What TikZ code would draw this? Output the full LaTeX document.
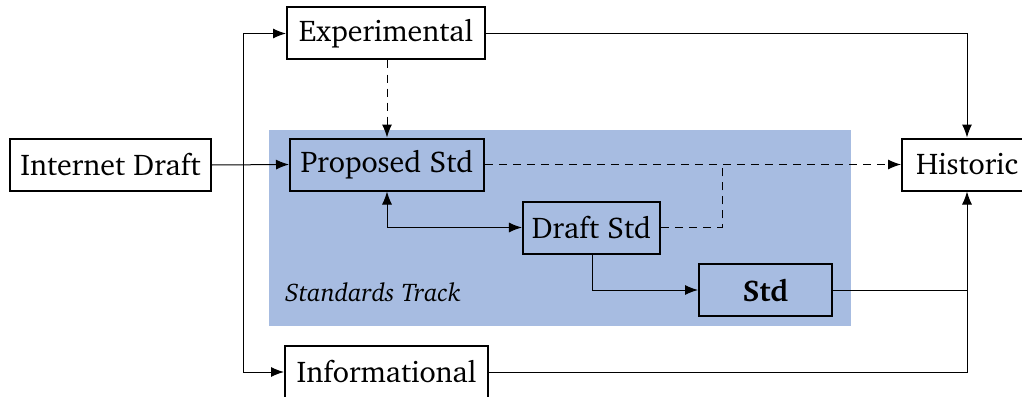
\documentclass[tikz,border=0pt]{standalone}
\usepackage[T1]{fontenc}
\usepackage{charter}
\usetikzlibrary{arrows.meta}
\definecolor{trackblue}{RGB}{167,188,225}
\begin{document}
\begin{tikzpicture}[x=1pt,y=-1pt,
  box/.style={draw, line width=2pt, minimum height=52pt, inner xsep=9pt, font=\fontsize{30}{34}\selectfont, anchor=center},
  conn/.style={line width=1pt, -{Latex[length=13pt,width=10pt]}},
  dconn/.style={conn, dash pattern=on 8pt off 6pt},
  every node/.style={inner ysep=0pt}
]
\useasboundingbox (0,0) rectangle (1022,396);
\fill[trackblue] (269,130) rectangle (851,326);
\node[box, minimum width=201pt] (id) at (110.5,165) {Internet Draft};
\node[box, minimum width=198pt] (exp) at (386,33.5) {Experimental};
\node[box, minimum width=194pt] (ps) at (387,164.5) {Proposed Std};
\node[box, minimum width=137pt] (ds) at (591.5,227.5) {Draft Std};
\node[box, minimum width=133pt] (std) at (765.5,290) {\bfseries Std};
\node[box, minimum width=130pt, anchor=west] (hist) at (901,164.5) {Historic};
\node[box, minimum width=203pt] (inf) at (386.5,372) {Informational};
\node[font=\fontsize{25.5}{30}\selectfont\itshape, anchor=west, inner xsep=0pt] (lbl) at (285,292) {Standards Track};
\coordinate (v) at (243,165);
\draw[conn] (id.east) -- (ps.west);
\draw[conn] (v |- exp.west) -- (exp.west);
\draw[conn] (v |- inf.west) -- (inf.west);
\draw[line width=1pt] (v |- exp.west) -- (v |- inf.west);
\draw[dconn] (exp.south -| ps.north) -- (ps.north);
\coordinate (hx) at (967,0);
\draw[conn] (exp.east) -| (hx |- hist.north);
\draw[dconn] (ps.east) -- (hist.west);
\coordinate (dj) at (722,0);
\draw[line width=1pt, dash pattern=on 8pt off 6pt] (ds.east) -| (dj |- ps.east);
\draw[line width=1pt, {Latex[length=13pt,width=10pt]}-{Latex[length=13pt,width=10pt]}] (ps.south) |- (ds.west);
\coordinate (dsb) at (592,0);
\draw[conn] (dsb |- ds.south) |- (std.west);
\draw[conn] (std.east) -| (hx |- hist.south);
\draw[line width=1pt] (inf.east) -| (hx |- std.east);
\end{tikzpicture}
\end{document}
